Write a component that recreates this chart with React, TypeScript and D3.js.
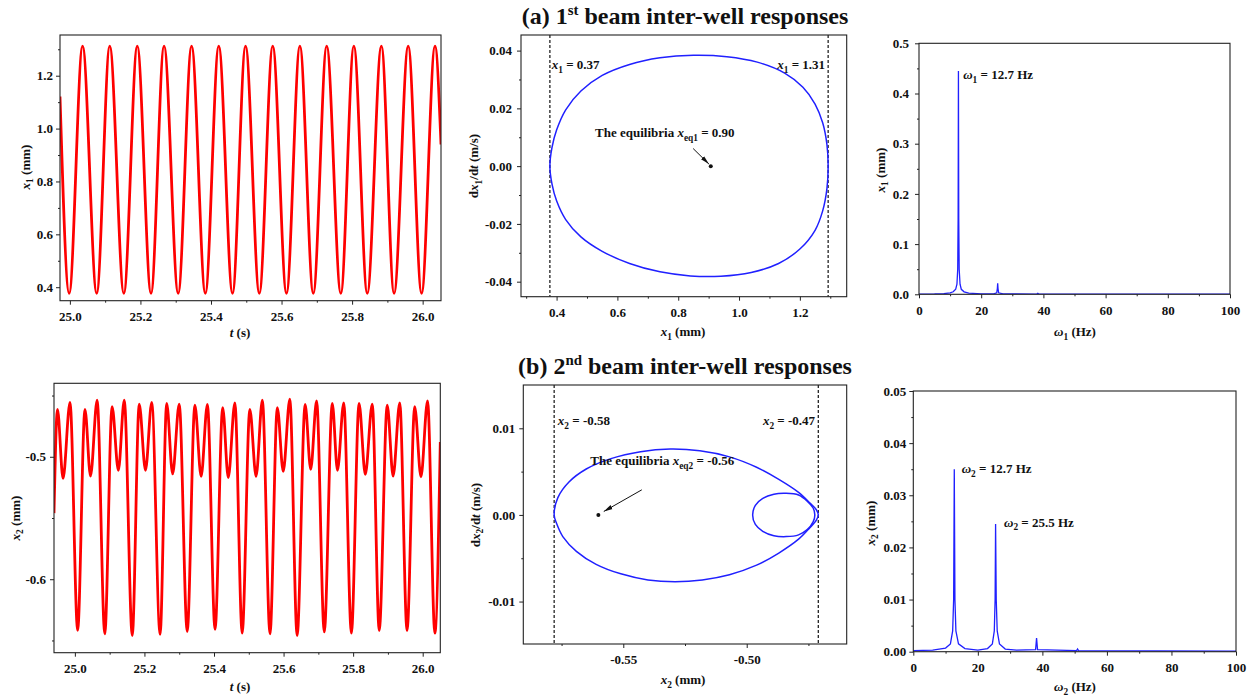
import React, { useRef, useEffect } from 'react';
import * as d3 from 'd3';

// (a) beam 1, time history: start point, alternating troughs / peaks, end point
const t1Time = [24.972, 24.998, 25.036, 25.076, 25.113, 25.153, 25.191, 25.230, 25.267, 25.307, 25.345,
  25.384, 25.422, 25.461, 25.498, 25.537, 25.575, 25.614, 25.652, 25.690, 25.728, 25.768, 25.805,
  25.843, 25.883, 25.919, 25.959, 25.997, 26.035, 26.052];
const t1Disp = [1.121, 0.377, 1.312, 0.377, 1.312, 0.377, 1.312, 0.377, 1.312, 0.377, 1.312,
  0.377, 1.312, 0.377, 1.312, 0.377, 1.312, 0.377, 1.312, 0.377, 1.312, 0.377, 1.312,
  0.377, 1.312, 0.377, 1.312, 0.377, 1.312, 0.94];

// (a) phase portrait (closed orbit, upper half left->right then lower half right->left)
const orbit1X = [0.378, 0.385, 0.400, 0.430, 0.480, 0.550, 0.640, 0.740, 0.850, 0.960, 1.060, 1.150, 1.210,
  1.250, 1.275, 1.289, 1.293, 1.289, 1.275, 1.250, 1.200, 1.130, 1.040, 0.940, 0.840, 0.740, 0.640, 0.550,
  0.480, 0.430, 0.400, 0.385];
const orbit1V = [0, 0.0065, 0.0125, 0.0195, 0.0260, 0.0314, 0.0352, 0.0375, 0.0384, 0.0379, 0.0360, 0.0322,
  0.0273, 0.0215, 0.0150, 0.0075, 0, -0.0078, -0.0155, -0.0222, -0.0287, -0.0337, -0.0368, -0.0381,
  -0.0380, -0.0366, -0.0337, -0.0295, -0.0245, -0.0185, -0.0120, -0.0062];
const bounds1 = [0.378, 1.293];
const eq1 = [0.907, 0];

// (a) spectrum
const spec1F = [0, 5, 8, 10, 11, 11.8, 12.2, 12.45, 12.58, 12.68, 12.78, 12.92, 13.2, 13.6, 14.5, 16, 20,
  24, 25.0, 25.2, 25.3, 25.4, 25.6, 27, 37.9, 38.2, 38.5, 50, 100];
const spec1A = [0.0005, 0.0008, 0.0015, 0.003, 0.005, 0.010, 0.02, 0.05, 0.15, 0.445, 0.15, 0.05, 0.02,
  0.01, 0.005, 0.0025, 0.001, 0.001, 0.003, 0.012, 0.022, 0.012, 0.003, 0.001, 0.0005, 0.002, 0.0005,
  0.0003, 0.0002];

// (b) beam 2, time history extrema
const t2Time = [24.940, 24.950, 24.966, 24.986, 25.008, 25.029, 25.045, 25.064, 25.086, 25.107, 25.125,
  25.142, 25.165, 25.185, 25.203, 25.221, 25.245, 25.264, 25.281, 25.300, 25.323, 25.345, 25.363,
  25.381, 25.403, 25.425, 25.441, 25.460, 25.481, 25.503, 25.521, 25.539, 25.561, 25.582, 25.599,
  25.618, 25.639, 25.662, 25.678, 25.695, 25.717, 25.740, 25.755, 25.773, 25.795, 25.817, 25.835,
  25.855, 25.875, 25.898, 25.915, 25.934, 25.955, 25.977, 25.995, 26.014, 26.035, 26.0506];
const t2Disp = [-0.546, -0.4614, -0.5177, -0.4557, -0.6418, -0.4614, -0.5158, -0.4538, -0.6446, -0.459, -0.511,
  -0.4538, -0.646, -0.457, -0.511, -0.4557, -0.645, -0.4565, -0.514, -0.457, -0.6427, -0.4579, -0.516,
  -0.4573, -0.641, -0.4598, -0.517, -0.456, -0.644, -0.4614, -0.516, -0.4538, -0.6446, -0.4598, -0.512,
  -0.453, -0.646, -0.4573, -0.5103, -0.4543, -0.643, -0.4565, -0.511, -0.456, -0.644, -0.4565, -0.5144,
  -0.457, -0.642, -0.4579, -0.5158, -0.456, -0.642, -0.459, -0.5163, -0.4543, -0.644, -0.488];

// (b) phase portrait: big loop + small loop
const bigLoopX = [-0.578, -0.5765, -0.572, -0.565, -0.555, -0.543, -0.531, -0.519, -0.507, -0.496, -0.487,
  -0.479, -0.4745, -0.4718, -0.471, -0.4718, -0.4745, -0.479, -0.487, -0.496, -0.507, -0.518, -0.529,
  -0.540, -0.551, -0.561, -0.569, -0.5745, -0.577];
const bigLoopV = [0, 0.0020, 0.0038, 0.0053, 0.0065, 0.0073, 0.0076, 0.0074, 0.0067, 0.0055, 0.0041,
  0.0026, 0.0014, 0.0006, 0, -0.0006, -0.0015, -0.0028, -0.0044, -0.0058, -0.0069, -0.0075, -0.0077,
  -0.0075, -0.0068, -0.0057, -0.0042, -0.0025, -0.0010];
const smallLoopX = [-0.4976, -0.4965, -0.4935, -0.489, -0.484, -0.479, -0.4755, -0.4731, -0.4724,
  -0.4731, -0.4755, -0.479, -0.484, -0.489, -0.4935, -0.4965];
const smallLoopV = [0, 0.0011, 0.0019, 0.0024, 0.0025, 0.0023, 0.0016, 0.0008, 0,
  -0.0008, -0.0017, -0.0023, -0.0025, -0.0024, -0.0019, -0.0011];
const bounds2 = [-0.578, -0.471];
const eq2 = [-0.5601, 0];

// (b) spectrum
const spec2F = [0, 6, 10, 11.5, 12.2, 12.5, 12.7, 12.9, 13.2, 14, 16, 20, 23, 24.5, 25.1, 25.35, 25.5, 25.7,
  26, 26.7, 28.5, 32, 37.9, 38.2, 38.5, 50.6, 50.9, 51.2, 100];
const spec2A = [0.0002, 0.0003, 0.0007, 0.0015, 0.004, 0.01, 0.035, 0.01, 0.004, 0.0015, 0.0006, 0.0003,
  0.0006, 0.0015, 0.004, 0.01, 0.0245, 0.01, 0.004, 0.0015, 0.0005, 0.0003, 0.0004, 0.0026, 0.0004,
  0.0002, 0.0005, 0.0002, 0.0001];

// ticks
const timeTicks = [25.0, 25.2, 25.4, 25.6, 25.8, 26.0];
const timeMinor = [25.1, 25.3, 25.5, 25.7, 25.9];
const x1Ticks = [0.4, 0.6, 0.8, 1.0, 1.2];
const x1Minor = [0.3, 0.5, 0.7, 0.9, 1.1, 1.3];
const v1Ticks = [-0.04, -0.02, 0, 0.02, 0.04];
const v1Minor = [-0.03, -0.01, 0.01, 0.03];
const freqTicks = [0, 20, 40, 60, 80, 100];
const freqMinor = [10, 30, 50, 70, 90];
const a1Ticks = [0, 0.1, 0.2, 0.3, 0.4, 0.5];
const a1Minor = [0.05, 0.15, 0.25, 0.35, 0.45];
const d1Ticks = [0.4, 0.6, 0.8, 1.0, 1.2];
const d1Minor = [0.5, 0.7, 0.9, 1.1, 1.3];
const d2Ticks = [-0.6, -0.5];
const d2Minor = [-0.65, -0.55, -0.45];
const x2Ticks = [-0.55, -0.5];
const x2Minor = [-0.575, -0.525, -0.475];
const v2Ticks = [-0.01, 0, 0.01];
const v2Minor = [-0.005, 0.005];
const a2Ticks = [0, 0.01, 0.02, 0.03, 0.04, 0.05];
const a2Minor = [0.005, 0.015, 0.025, 0.035, 0.045];

const FONT = "'Times New Roman', 'Liberation Serif', serif";
const RED = '#ff0000';
const BLUE = '#2020ff';

type Seg = { t: string; i?: boolean; sub?: boolean; sup?: boolean };

function rich(parent: any, segs: Seg[], x: number, y: number, size = 13, anchor = 'start', rotate = false) {
  const text = parent.append('text')
    .attr('font-family', FONT)
    .attr('font-weight', 'bold')
    .attr('font-size', size)
    .attr('text-anchor', anchor)
    .attr('fill', '#111')
    .style('white-space', 'pre');
  if (rotate) text.attr('transform', `translate(${x},${y}) rotate(-90)`);
  else text.attr('x', x).attr('y', y);
  let shift = 0;
  segs.forEach(s => {
    const target = s.sub ? size * 0.3 : s.sup ? -size * 0.38 : 0;
    const ts = text.append('tspan').text(s.t).attr('dy', target - shift);
    shift = target;
    if (s.i) ts.attr('font-style', 'italic');
    if (s.sub) ts.attr('font-size', size * 0.72);
    if (s.sup) ts.attr('font-size', size * 0.62);
  });
  return text;
}

function panel(svg: any, p: any) {
  const x = d3.scaleLinear().domain(p.xDom).range([p.left, p.right]);
  const y = d3.scaleLinear().domain(p.yDom).range([p.bottom, p.top]);
  const g = svg.append('g');

  const style = (ax: any) => {
    ax.select('.domain').remove();
    ax.selectAll('line').attr('stroke', '#222');
    ax.selectAll('text').attr('font-family', FONT).attr('font-weight', 'bold')
      .attr('font-size', 13).attr('fill', '#111');
  };

  g.append('g').attr('transform', `translate(0,${p.bottom})`)
    .call(d3.axisBottom(x).tickValues(p.xMinor).tickSize(2).tickFormat(() => '')).call(style);
  g.append('g').attr('transform', `translate(0,${p.bottom})`)
    .call(d3.axisBottom(x).tickValues(p.xTicks).tickSize(4).tickPadding(7).tickFormat(p.xFmt)).call(style);
  g.append('g').attr('transform', `translate(${p.left},0)`)
    .call(d3.axisLeft(y).tickValues(p.yMinor).tickSize(2).tickFormat(() => '')).call(style);
  g.append('g').attr('transform', `translate(${p.left},0)`)
    .call(d3.axisLeft(y).tickValues(p.yTicks).tickSize(4).tickPadding(p.yPad ?? 4).tickFormat(p.yFmt)).call(style);

  const clipId = `clip-${p.id}`;
  svg.select('defs').append('clipPath').attr('id', clipId)
    .append('rect').attr('x', p.left).attr('y', p.top)
    .attr('width', p.right - p.left).attr('height', p.bottom - p.top);
  const plot = g.append('g').attr('clip-path', `url(#${clipId})`);

  g.append('rect')
    .attr('x', p.left).attr('y', p.top)
    .attr('width', p.right - p.left).attr('height', p.bottom - p.top)
    .attr('fill', 'none').attr('stroke', '#222').attr('stroke-width', 1.1);

  return { g, plot, x, y };
}

const App = () => {
  const svgRef = useRef<SVGSVGElement>(null);

  useEffect(() => {
    const svg = d3.select(svgRef.current);
    svg.selectAll('*').remove();
    const defs = svg.append('defs');
    defs.append('marker').attr('id', 'arrow')
      .attr('markerUnits', 'userSpaceOnUse')
      .attr('markerWidth', 9).attr('markerHeight', 6)
      .attr('refX', 9).attr('refY', 3).attr('orient', 'auto')
      .append('path').attr('d', 'M0,0.8 L9,3 L0,5.2 Z').attr('fill', '#111');

    const f1 = (d: number) => d.toFixed(1);
    const f2 = (d: number) => d.toFixed(2);
    const fi = (d: number) => d3.format('d')(d);

    const xSub = (n: string): Seg[] => [{ t: 'x', i: true }, { t: n, sub: true }];
    const wSub = (n: string): Seg[] => [{ t: 'ω', i: true }, { t: n, sub: true }];
    const loop = (sx: any, sy: any) =>
      d3.line<number[]>().x(d => sx(d[0])).y(d => sy(d[1])).curve(d3.curveCatmullRomClosed);

    // titles
    rich(svg, [{ t: '(a) 1' }, { t: 'st', sup: true }, { t: ' beam inter-well responses' }], 685, 24, 24, 'middle');
    rich(svg, [{ t: '(b) 2' }, { t: 'nd', sup: true }, { t: ' beam inter-well responses' }], 685, 374, 24, 'middle');

    // ---------- (a) time history ----------
    const p1 = panel(svg, {
      id: 'p1', left: 60, right: 441, top: 35, bottom: 300.7,
      xDom: [24.972, 26.052], yDom: [0.349, 1.354],
      xTicks: timeTicks, xMinor: timeMinor, yTicks: d1Ticks, yMinor: d1Minor,
      xFmt: f1, yFmt: f1, yPad: 3,
    });
    p1.plot.append('path')
      .attr('d', d3.line<number>().x((d, i) => p1.x(t1Time[i])).y(d => p1.y(d)).curve(d3.curveMonotoneX)(t1Disp))
      .attr('fill', 'none').attr('stroke', RED).attr('stroke-width', 2.8);
    rich(svg, [{ t: 't', i: true }, { t: ' (s)' }], 240, 337, 13, 'middle');
    rich(svg, [...xSub('1'), { t: ' (mm)' }], 29.5, 167, 13, 'middle', true);

    // ---------- (a) phase portrait ----------
    const p2 = panel(svg, {
      id: 'p2', left: 521, right: 846.7, top: 35, bottom: 296.7,
      xDom: [0.283, 1.354], yDom: [-0.0452, 0.0454],
      xTicks: x1Ticks, xMinor: x1Minor, yTicks: v1Ticks, yMinor: v1Minor,
      xFmt: f1, yFmt: f2, yPad: 5,
    });
    bounds1.forEach(b => {
      p2.plot.append('line').attr('x1', p2.x(b)).attr('x2', p2.x(b)).attr('y1', 35).attr('y2', 296.7)
        .attr('stroke', '#222').attr('stroke-width', 1.3).attr('stroke-dasharray', '3,2');
    });
    p2.plot.append('path')
      .attr('d', loop(p2.x, p2.y)(orbit1X.map((v, i) => [v, orbit1V[i]])))
      .attr('fill', 'none').attr('stroke', BLUE).attr('stroke-width', 1.5);
    p2.plot.append('circle').attr('cx', p2.x(eq1[0])).attr('cy', p2.y(eq1[1])).attr('r', 2).attr('fill', '#111');
    p2.plot.append('line')
      .attr('x1', p2.x(0.849)).attr('y1', p2.y(0.0061)).attr('x2', p2.x(0.901)).attr('y2', p2.y(0.0007))
      .attr('stroke', '#111').attr('stroke-width', 1).attr('marker-end', 'url(#arrow)');
    rich(svg, [...xSub('1'), { t: ' = 0.37' }], p2.x(0.384), p2.y(0.0335));
    rich(svg, [...xSub('1'), { t: ' = 1.31' }], p2.x(1.283), p2.y(0.0335), 13, 'end');
    rich(svg, [{ t: 'The equilibria ' }, { t: 'x', i: true }, { t: 'eq1', sub: true }, { t: ' = 0.90' }],
      p2.x(0.756), p2.y(0.0101), 13, 'middle');
    rich(svg, [...xSub('1'), { t: ' (mm)' }], 683, 336, 13, 'middle');
    rich(svg, [{ t: 'd' }, ...xSub('1'), { t: '/d' }, { t: 't', i: true }, { t: ' (m/s)' }], 478, 166, 13, 'middle', true);

    // ---------- (a) spectrum ----------
    const p3 = panel(svg, {
      id: 'p3', left: 919, right: 1230, top: 43.3, bottom: 294.3,
      xDom: [0, 100], yDom: [0, 0.5],
      xTicks: freqTicks, xMinor: freqMinor, yTicks: a1Ticks, yMinor: a1Minor,
      xFmt: fi, yFmt: f1, yPad: 6,
    });
    p3.plot.append('path')
      .attr('d', d3.line<number>().x(d => p3.x(d)).y((d, i) => p3.y(spec1A[i]))(spec1F))
      .attr('fill', 'none').attr('stroke', BLUE).attr('stroke-width', 1.3);
    rich(svg, [...wSub('1'), { t: ' = 12.7 Hz' }], p3.x(14.2), p3.y(0.428));
    rich(svg, [...wSub('1'), { t: ' (Hz)' }], 1075, 336, 13, 'middle');
    rich(svg, [...xSub('1'), { t: ' (mm)' }], 884.5, 170, 13, 'middle', true);

    // ---------- (b) time history ----------
    const p4 = panel(svg, {
      id: 'p4', left: 54, right: 440.3, top: 383.3, bottom: 652.7,
      xDom: [24.94, 26.0506], yDom: [-0.66, -0.44],
      xTicks: timeTicks, xMinor: timeMinor, yTicks: d2Ticks, yMinor: d2Minor,
      xFmt: f1, yFmt: f1, yPad: 4,
    });
    p4.plot.append('path')
      .attr('d', d3.line<number>().x((d, i) => p4.x(t2Time[i])).y(d => p4.y(d)).curve(d3.curveMonotoneX)(t2Disp))
      .attr('fill', 'none').attr('stroke', RED).attr('stroke-width', 2.8);
    rich(svg, [{ t: 't', i: true }, { t: ' (s)' }], 240, 691, 13, 'middle');
    rich(svg, [...xSub('2'), { t: ' (mm)' }], 19.5, 518, 13, 'middle', true);

    // ---------- (b) phase portrait ----------
    const p5 = panel(svg, {
      id: 'p5', left: 523.3, right: 846.7, top: 385, bottom: 644,
      xDom: [-0.5905, -0.4595], yDom: [-0.0149, 0.015],
      xTicks: x2Ticks, xMinor: x2Minor, yTicks: v2Ticks, yMinor: v2Minor,
      xFmt: f2, yFmt: f2, yPad: 4,
    });
    bounds2.forEach(b => {
      p5.plot.append('line').attr('x1', p5.x(b)).attr('x2', p5.x(b)).attr('y1', 385).attr('y2', 644)
        .attr('stroke', '#222').attr('stroke-width', 1.3).attr('stroke-dasharray', '3,2');
    });
    p5.plot.append('path')
      .attr('d', loop(p5.x, p5.y)(bigLoopX.map((v, i) => [v, bigLoopV[i]])))
      .attr('fill', 'none').attr('stroke', BLUE).attr('stroke-width', 1.5);
    p5.plot.append('path')
      .attr('d', loop(p5.x, p5.y)(smallLoopX.map((v, i) => [v, smallLoopV[i]])))
      .attr('fill', 'none').attr('stroke', BLUE).attr('stroke-width', 1.5);
    p5.plot.append('circle').attr('cx', p5.x(eq2[0])).attr('cy', p5.y(eq2[1])).attr('r', 2).attr('fill', '#111');
    p5.plot.append('line')
      .attr('x1', p5.x(-0.5425)).attr('y1', p5.y(0.0029)).attr('x2', p5.x(-0.5579)).attr('y2', p5.y(0.0004))
      .attr('stroke', '#111').attr('stroke-width', 1).attr('marker-end', 'url(#arrow)');
    rich(svg, [...xSub('2'), { t: ' = -0.58' }], p5.x(-0.5765), p5.y(0.0104));
    rich(svg, [...xSub('2'), { t: ' = -0.47' }], p5.x(-0.4723), p5.y(0.0104), 13, 'end');
    rich(svg, [{ t: 'The equilibria ' }, { t: 'x', i: true }, { t: 'eq2', sub: true }, { t: ' = -0.56' }],
      p5.x(-0.5342), p5.y(0.0058), 13, 'middle');
    rich(svg, [...xSub('2'), { t: ' (mm)' }], 683, 684, 13, 'middle');
    rich(svg, [{ t: 'd' }, ...xSub('2'), { t: '/d' }, { t: 't', i: true }, { t: ' (m/s)' }], 479.5, 515, 13, 'middle', true);

    // ---------- (b) spectrum ----------
    const p6 = panel(svg, {
      id: 'p6', left: 913.3, right: 1236, top: 391, bottom: 651.7,
      xDom: [0, 100], yDom: [0, 0.05],
      xTicks: freqTicks, xMinor: freqMinor, yTicks: a2Ticks, yMinor: a2Minor,
      xFmt: fi, yFmt: f2, yPad: 3,
    });
    p6.plot.append('path')
      .attr('d', d3.line<number>().x(d => p6.x(d)).y((d, i) => p6.y(spec2A[i]))(spec2F))
      .attr('fill', 'none').attr('stroke', BLUE).attr('stroke-width', 1.3);
    rich(svg, [...wSub('2'), { t: ' = 12.7 Hz' }], p6.x(15.0), p6.y(0.0342));
    rich(svg, [...wSub('2'), { t: ' = 25.5 Hz' }], p6.x(28.1), p6.y(0.024));
    rich(svg, [...wSub('2'), { t: ' (Hz)' }], 1075, 691, 13, 'middle');
    rich(svg, [...xSub('2'), { t: ' (mm)' }], 874.5, 523, 13, 'middle', true);
  }, []);

  return (
    <svg ref={svgRef} width={1253} height={696}
      style={{ position: 'absolute', left: 0, top: 0, background: '#fff' }} />
  );
};

export default App;
